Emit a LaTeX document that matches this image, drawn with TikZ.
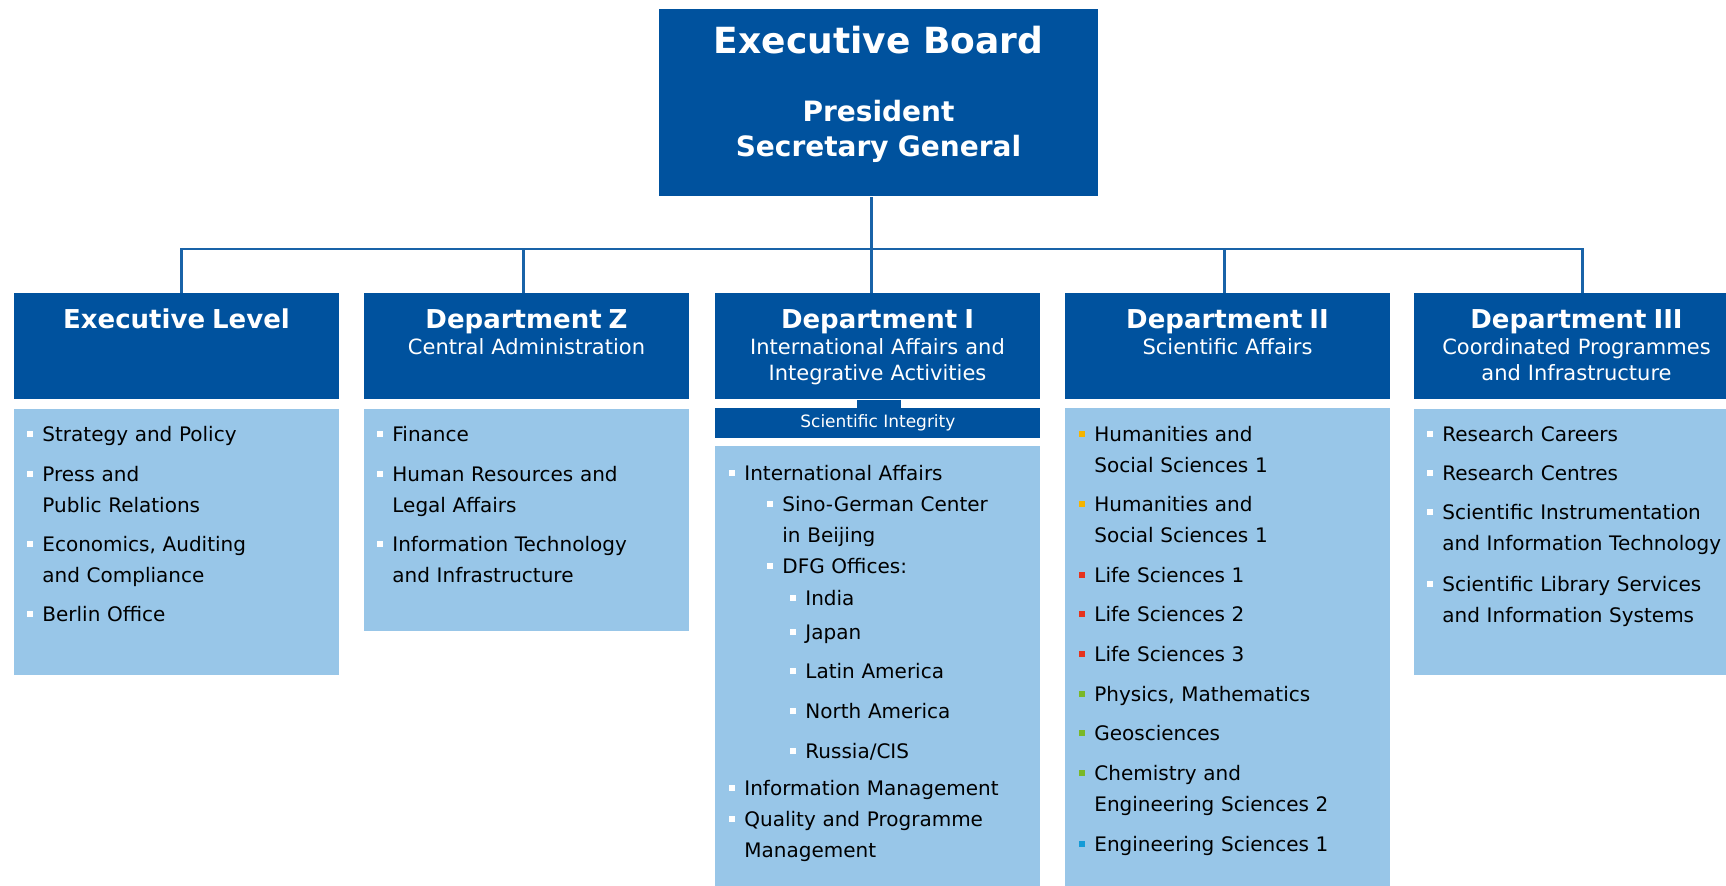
\documentclass[tikz,border=0pt]{standalone}
\usepackage{fontspec}
\setmainfont{DejaVu Sans}
\usepackage{tikz}
\usetikzlibrary{positioning}

\definecolor{dfgblue}{RGB}{0,82,158}
\definecolor{dfglight}{RGB}{152,198,232}
\definecolor{hsyellow}{RGB}{245,180,0}
\definecolor{lsred}{RGB}{230,50,30}
\definecolor{nsgreen}{RGB}{122,184,40}
\definecolor{esblue}{RGB}{20,155,215}

\newcommand{\bsq}[1][white]{\leavevmode\llap{\textcolor{#1}{\rule[2.5pt]{3pt}{3pt}}\hspace{4.5pt}}}
\newcommand{\depname}[1]{{\fontsize{13}{13}\selectfont\bfseries #1}}

\begin{document}
\begin{tikzpicture}[x=0.5pt,y=-0.5pt,
  headbox/.style={fill=dfgblue, anchor=north west, inner sep=0pt, minimum width=162.5pt, minimum height=53pt},
  listbox/.style={fill=dfglight, inner sep=0pt, minimum width=162.5pt},
  conn/.style={draw=dfgblue!90!white, line width=1.1pt},
  boardtitle/.style={text=white, anchor=base, font=\fontsize{18}{22}\selectfont\bfseries},
  boardnames/.style={text=white, anchor=base, text width=210pt, align=center, inner sep=0pt, font=\fontsize{14}{17.5}\selectfont\bfseries},
  headtext/.style={text=white, anchor=base, text width=160pt, align=center, inner sep=0pt, font=\fontsize{10.5}{13}\selectfont},
  itm/.style={anchor=base west, text width=190pt, align=left, inner sep=0pt, font=\fontsize{10}{15.25}\selectfont, text=black}
]
\useasboundingbox (0,0) rectangle (1726,886);
\clip (0,0) rectangle (1726,886);

% board
\node[headbox, minimum width=219.5pt, minimum height=93.5pt] (board) at (659,9) {};
\node[boardtitle] (board-title) at (878.5,54) {Executive Board};
\node[boardnames] (board-names) at (878.5,122) {President\\Secretary General};

% departments
\node[headbox] (lvl) at (14,293) {};
\node[headbox] (depZ) at (364,293) {};
\node[headbox] (depI) at (715,293) {};
\node[headbox] (depII) at (1065,293) {};
\node[headbox] (depIII) at (1414,293) {};

\node[headtext] (lvl-name) at (176.5,329) {\depname{Executive Level}};
\node[headtext] (depZ-name) at (526.5,329) {\depname{Department Z}\\Central Administration};
\node[headtext] (depI-name) at (877.5,329) {\depname{Department I}\\International Affairs and\\Integrative Activities};
\node[headtext] (depII-name) at (1227.5,329) {\depname{Department II}\\Scientific Affairs};
\node[headtext] (depIII-name) at (1576.5,329) {\depname{Department III}\\Coordinated Programmes\\and Infrastructure};

\node[listbox, minimum height=133pt, below=4.5pt of lvl] (lvl-list) {};
\node[listbox, minimum height=111pt, below=4.5pt of depZ] (depZ-list) {};
\node[headbox, minimum height=15pt, below=4pt of depI, text=white, font=\fontsize{8.5}{10}\selectfont] (sci) {Scientific Integrity};
\node[listbox, minimum height=223pt, below=3.5pt of sci] (depI-list) {};
\node[listbox, minimum height=241.5pt, below=4pt of depII] (depII-list) {};
\node[listbox, minimum height=133pt, below=4.5pt of depIII] (depIII-list) {};

% lines
\coordinate (bus) at (871,249);
\draw[conn] ([xshift=-3.75pt]board.south) -- ([xshift=-3.75pt]board.south |- bus);
\draw[conn] ([xshift=2.25pt]lvl.north) |- ([xshift=2.75pt]depIII.north |- bus) -- ([xshift=2.75pt]depIII.north);
\draw[conn] ([xshift=-1.75pt]depZ.north) -- ([xshift=-1.75pt]depZ.north |- bus);
\draw[conn] ([xshift=-3.25pt]depI.north) -- ([xshift=-3.25pt]depI.north |- bus);
\draw[conn] ([xshift=-1.75pt]depII.north) -- ([xshift=-1.75pt]depII.north |- bus);
\draw[dfgblue, line width=22pt] ([xshift=0.75pt]depI.south) -- ([xshift=0.75pt]sci.north);

% executive level
\node[itm] (lvl-1) at (42,442) {\bsq Strategy and Policy};
\node[itm] (lvl-2) at (42,482) {\bsq Press and\\Public Relations};
\node[itm] (lvl-3) at (42,552) {\bsq Economics, Auditing\\and Compliance};
\node[itm] (lvl-4) at (42,622) {\bsq Berlin Office};

% department Z
\node[itm] (depZ-1) at (392,442) {\bsq Finance};
\node[itm] (depZ-2) at (392,482) {\bsq Human Resources and\\Legal Affairs};
\node[itm] (depZ-3) at (392,552) {\bsq Information Technology\\and Infrastructure};

% department I
\node[itm] (depI-1) at (744,481) {\bsq International Affairs};
\node[itm] (depI-1a) at (782,512) {\bsq Sino-German Center\\in Beijing};
\node[itm] (depI-1b) at (782,574) {\bsq DFG Offices:};
\node[itm] (depI-in) at (805,606) {\bsq India};
\node[itm] (depI-jp) at (805,640) {\bsq Japan};
\node[itm] (depI-la) at (805,679) {\bsq Latin America};
\node[itm] (depI-na) at (805,719) {\bsq North America};
\node[itm] (depI-ru) at (805,759) {\bsq Russia/CIS};
\node[itm] (depI-2) at (744,796) {\bsq Information Management};
\node[itm] (depI-3) at (744,827) {\bsq Quality and Programme\\Management};

% department II
\node[itm] (depII-1) at (1094,442) {\bsq[hsyellow]Humanities and\\Social Sciences 1};
\node[itm] (depII-2) at (1094,512) {\bsq[hsyellow]Humanities and\\Social Sciences 1};
\node[itm] (depII-3) at (1094,583) {\bsq[lsred]Life Sciences 1};
\node[itm] (depII-4) at (1094,622) {\bsq[lsred]Life Sciences 2};
\node[itm] (depII-5) at (1094,662) {\bsq[lsred]Life Sciences 3};
\node[itm] (depII-6) at (1094,702) {\bsq[nsgreen]Physics, Mathematics};
\node[itm] (depII-7) at (1094,741) {\bsq[nsgreen]Geosciences};
\node[itm] (depII-8) at (1094,781) {\bsq[nsgreen]Chemistry and\\Engineering Sciences 2};
\node[itm] (depII-9) at (1094,852) {\bsq[esblue]Engineering Sciences 1};

% department III
\node[itm] (depIII-1) at (1442,442) {\bsq Research Careers};
\node[itm] (depIII-2) at (1442,481) {\bsq Research Centres};
\node[itm] (depIII-3) at (1442,520) {\bsq Scientific Instrumentation\\and Information Technology};
\node[itm] (depIII-4) at (1442,592) {\bsq Scientific Library Services\\and Information Systems};

\end{tikzpicture}
\end{document}
